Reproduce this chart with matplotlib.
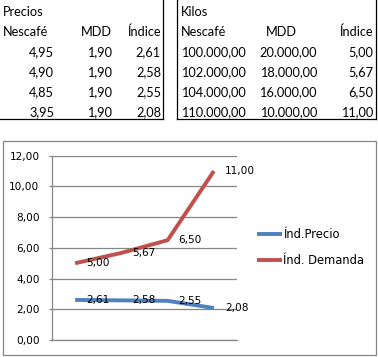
import matplotlib
matplotlib.use("Agg")
import matplotlib.pyplot as plt
from matplotlib.lines import Line2D
from matplotlib.patches import Rectangle

# ---- data ----
precio_nescafe = [4.95, 4.90, 4.85, 3.95]
precio_mdd = [1.90, 1.90, 1.90, 1.90]
indice_precio = [2.61, 2.58, 2.55, 2.08]
kilos_nescafe = [100000.0, 102000.0, 104000.0, 110000.0]
kilos_mdd = [20000.0, 18000.0, 16000.0, 10000.0]
indice_demanda = [5.00, 5.67, 6.50, 11.00]
categorias = [1, 2, 3, 4]
serie_nombres = ["Índ.Precio", "Índ. Demanda"]
yticks = [0, 2, 4, 6, 8, 10, 12]

W, H = 378, 357
DPI = 100


def fmt(v):
    s = f"{v:,.2f}"
    return s.replace(",", "X").replace(".", ",").replace("X", ".")


def fx(x):
    return x / W


def fy(y):
    return 1 - y / H


fig = plt.figure(figsize=(W / DPI, H / DPI), dpi=DPI)
fig.patch.set_facecolor("white")

tfont = dict(family=["Lato", "DejaVu Sans"], fontsize=9.2, color="black")

# ---- tables ----
base = [16.3, 36.3, 56.3, 76.3, 96.3, 116.3]
fig.text(fx(3), fy(base[0]), "Precios", ha="left", va="baseline", **tfont)
fig.text(fx(3), fy(base[1]), "Nescafé", ha="left", va="baseline", **tfont)
fig.text(fx(112), fy(base[1]), "MDD", ha="right", va="baseline", **tfont)
fig.text(fx(161), fy(base[1]), "Índice", ha="right", va="baseline", **tfont)
for i in range(4):
    b = fy(base[i + 2])
    fig.text(fx(54), b, fmt(precio_nescafe[i]), ha="right", va="baseline", **tfont)
    fig.text(fx(112), b, fmt(precio_mdd[i]), ha="right", va="baseline", **tfont)
    fig.text(fx(161), b, fmt(indice_precio[i]), ha="right", va="baseline", **tfont)

fig.text(fx(181), fy(base[0]), "Kilos", ha="left", va="baseline", **tfont)
fig.text(fx(181), fy(base[1]), "Nescafé", ha="left", va="baseline", **tfont)
fig.text(fx(281), fy(base[1]), "MDD", ha="center", va="baseline", **tfont)
fig.text(fx(373), fy(base[1]), "Índice", ha="right", va="baseline", **tfont)
for i in range(4):
    b = fy(base[i + 2])
    fig.text(fx(246), b, fmt(kilos_nescafe[i]), ha="right", va="baseline", **tfont)
    fig.text(fx(317), b, fmt(kilos_mdd[i]), ha="right", va="baseline", **tfont)
    fig.text(fx(373), b, fmt(indice_demanda[i]), ha="right", va="baseline", **tfont)

lk = dict(color="black", lw=0.9, transform=fig.transFigure)
fig.add_artist(Line2D([fx(163), fx(163)], [fy(0), fy(119.5)], **lk))
fig.add_artist(Line2D([fx(0), fx(163)], [fy(119.5), fy(119.5)], **lk))
fig.add_artist(Line2D([fx(177), fx(177)], [fy(0), fy(119.5)], **lk))
fig.add_artist(Line2D([fx(375.5), fx(375.5)], [fy(0), fy(119.5)], **lk))
fig.add_artist(Line2D([fx(177), fx(375.5)], [fy(119.5), fy(119.5)], **lk))

# ---- chart border ----
fig.add_artist(Rectangle((fx(3), fy(355)), fx(373), (355 - 141) / H,
                         transform=fig.transFigure, fill=False,
                         edgecolor="#868686", lw=0.9))

# ---- chart ----
ax = fig.add_axes([fx(52), fy(340), fx(185), (340 - 155.7) / H])
ax.set_facecolor("none")
xs = list(range(len(categorias)))
blue = "#4F81BD"
red = "#C0504D"
ax.plot(xs, indice_precio, color=blue, lw=2.8, solid_joinstyle="round",
        solid_capstyle="butt", label=serie_nombres[0])
ax.plot(xs, indice_demanda, color=red, lw=2.8, solid_joinstyle="round",
        solid_capstyle="butt", label=serie_nombres[1])
ax.set_xlim(-0.5, len(categorias) - 0.5)
ax.set_ylim(0, 12)
ax.set_yticks(yticks)
ax.set_yticklabels([fmt(v) for v in yticks])
ax.set_xticks([])
ax.grid(axis="y", color="#868686", lw=0.9)
ax.set_axisbelow(True)
for s in ["top", "right"]:
    ax.spines[s].set_visible(False)
for s in ["left", "bottom"]:
    ax.spines[s].set_color("#868686")
    ax.spines[s].set_linewidth(0.9)
ax.tick_params(axis="y", length=2.5, width=0.9, color="#868686", pad=6.5,
               labelsize=7.6, labelcolor="black")
for lab in ax.get_yticklabels():
    lab.set_family("DejaVu Sans")

for serie in (indice_precio, indice_demanda):
    for x, v in zip(xs, serie):
        ax.annotate(fmt(v), xy=(x, v), xytext=(11, 0), textcoords="offset pixels",
                    ha="left", va="center", fontsize=7.6, family="DejaVu Sans",
                    color="black", annotation_clip=False)

leg = ax.legend(loc="center left", bbox_to_anchor=(fx(256.5), fy(247.5)),
                bbox_transform=fig.transFigure, frameon=False,
                handlelength=2.2, handletextpad=0.1, labelspacing=1.05,
                borderpad=0, borderaxespad=0,
                prop=dict(family="DejaVu Sans", size=8.3))

fig.savefig("out.png", dpi=DPI, facecolor="white")
